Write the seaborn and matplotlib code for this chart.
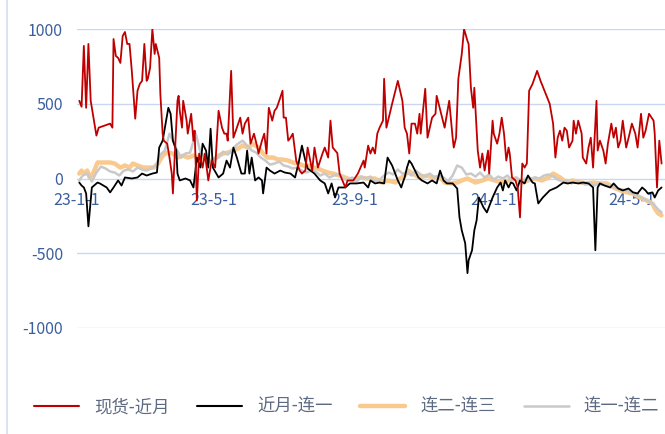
"""
Spread chart: 现货-近月 / 近月-连一 / 连二-连三 / 连一-连二, 2023-01 .. 2024-05.
"""

import numpy as np
import pandas as pd
import matplotlib
matplotlib.use("Agg")
import matplotlib.pyplot as plt
from matplotlib.lines import Line2D
import seaborn as sns


# =============================================
# DATA (days after 2023-01-01, spread value)
# =============================================

series_names = ['现货-近月', '近月-连一', '连二-连三', '连一-连二']

red_day = [2, 4, 6, 8, 10, 12, 17, 19, 29, 31, 32, 34, 36, 38, 40, 42, 44, 46, 48, 51,
           53, 55, 57, 59, 61, 62, 64, 66, 68, 69, 72, 73, 75, 76, 79, 81, 83, 84, 88, 89,
           90, 92, 93, 96, 97, 100, 102, 103, 105, 107, 110, 112, 115, 118, 121, 124, 127, 129, 131, 132,
           135, 137, 140, 143, 145, 147, 150, 152, 155, 158, 159, 162, 164, 166, 168, 171, 173, 175, 178, 180,
           181, 183, 185, 187, 189, 192, 195, 197, 200, 202, 206, 208, 211, 215, 217, 220, 222, 224, 228, 230,
           235, 237, 242, 246, 251, 252, 255, 257, 259, 261, 263, 265, 268, 269, 271, 276, 281, 285, 287, 289,
           291, 293, 296, 298, 300, 301, 303, 305, 307, 311, 314, 315, 319, 322, 323, 326, 329, 330, 332, 334,
           337, 339, 342, 343, 345, 347, 348, 351, 353, 355, 357, 360, 361, 364, 365, 368, 370, 372, 374, 376,
           378, 379, 381, 384, 386, 388, 390, 392, 394, 396, 399, 403, 406, 414, 417, 419, 421, 423, 425, 427,
           429, 431, 434, 435, 437, 439, 442, 443, 446, 448, 450, 452, 455, 456, 458, 461, 463, 465, 468, 470,
           472, 474, 476, 478, 481, 484, 486, 489, 491, 494, 496, 498, 501, 505, 506, 508, 510, 512]
red_val = [520, 480, 887, 473, 900, 520, 287, 340, 367, 340, 933, 820, 807, 773, 953, 980, 900, 900, 720, 400,
           587, 633, 653, 900, 653, 667, 740, 1000, 833, 900, 807, 567, 300, 253, 233, 140, 33, -100, 520, 553,
           453, 340, 520, 387, 300, 433, 253, 320, -147, 167, 73, 167, -13, 120, 73, 453, 340, 300, 300, 253,
           720, 273, 340, 407, 300, 367, 407, 233, 300, 207, 167, 253, 300, 167, 473, 387, 453, 473, 540, 587,
           407, 407, 253, 273, 300, 120, 53, 33, 53, 207, 53, 207, 73, 167, 207, 140, 387, 207, 170, 33,
           -60, -13, -13, 33, 120, 73, 220, 167, 207, 167, 300, 340, 387, 667, 340, 500, 653, 520, 340, 300,
           167, 367, 367, 300, 433, 300, 453, 600, 273, 407, 433, 553, 433, 340, 387, 520, 273, 207, 273, 667,
           833, 1000, 920, 900, 607, 473, 607, 187, 73, 167, 53, 187, 33, 387, 300, 233, 300, 407, 300, 120,
           207, 167, 7, -13, -60, -260, 100, 73, 100, 587, 633, 720, 653, 500, 367, 140, 273, 320, 253, 340,
           320, 207, 253, 387, 300, 387, 300, 140, 100, 207, 273, 73, 520, 187, 253, 187, 100, 233, 367, 273,
           340, 207, 253, 387, 207, 300, 367, 300, 207, 433, 273, 320, 433, 387, 300, -60, 253, 100]

black_day = [2, 4, 6, 8, 10, 13, 18, 20, 26, 29, 32, 36, 39, 42, 48, 53, 57, 61, 66, 70,
             72, 75, 80, 82, 84, 87, 88, 90, 95, 99, 102, 105, 108, 110, 113, 115, 117, 119, 122, 124,
             128, 131, 134, 137, 140, 144, 147, 149, 151, 153, 156, 159, 162, 163, 166, 169, 173, 178, 182, 187,
             191, 194, 197, 200, 202, 208, 213, 217, 220, 223, 226, 229, 235, 239, 245, 251, 255, 257, 261, 265,
             269, 272, 276, 281, 284, 286, 287, 289, 291, 293, 296, 299, 302, 307, 311, 315, 318, 321, 324, 329,
             333, 335, 337, 340, 342, 343, 346, 348, 350, 352, 356, 359, 362, 364, 368, 371, 373, 375, 378, 380,
             382, 385, 388, 392, 395, 399, 401, 404, 408, 414, 420, 426, 430, 434, 439, 443, 448, 452, 454, 456,
             458, 462, 467, 470, 474, 478, 483, 487, 491, 495, 498, 500, 504, 506, 509, 512]
black_val = [-27, -47, -60, -100, -320, -60, -27, -33, -60, -93, -60, -13, -47, 7, 0, 7, 33, 20, 33, 40,
             207, 253, 473, 433, 253, 187, 33, -13, 0, -13, -60, 140, 73, 233, 187, 73, 333, 73, 33, 7,
             33, 120, 73, 207, 140, 33, 33, 187, 33, 140, -13, 7, -13, -100, 73, 53, 33, 53, 40, 33,
             7, 100, 220, 120, 67, 33, -13, -33, -100, -33, -127, -60, -60, -33, -33, -27, -60, -13, -33, -27,
             -33, 140, 87, -13, -60, -13, 7, 73, 120, 100, 53, 7, -13, -33, -13, -33, 53, -13, -33, -33,
             -67, -260, -347, -433, -633, -547, -480, -347, -280, -127, -193, -227, -167, -127, -60, -27, -80, -13, -60, -27,
             -33, -80, -13, -33, 20, -27, -33, -167, -127, -80, -60, -27, -33, -27, -33, -27, -33, -60, -480, -60,
             -33, -47, -60, -33, -67, -80, -67, -93, -100, -60, -80, -100, -93, -127, -80, -60]

orange_day = [2, 4, 6, 9, 11, 14, 18, 23, 29, 33, 38, 42, 46, 49, 53, 58, 62, 67, 71, 74,
              77, 80, 84, 88, 93, 97, 102, 106, 110, 115, 119, 124, 128, 132, 137, 141, 145, 150, 154, 159,
              163, 167, 172, 176, 180, 185, 189, 194, 198, 202, 207, 211, 215, 220, 224, 230, 237, 242, 248, 254,
              261, 267, 272, 279, 283, 287, 290, 294, 300, 307, 312, 318, 322, 328, 333, 337, 342, 349, 355, 360,
              366, 372, 378, 384, 390, 395, 401, 407, 413, 417, 423, 429, 434, 441, 447, 452, 458, 464, 470, 476,
              482, 487, 493, 499, 504, 506, 509, 512]
orange_val = [33, 53, 33, 53, 7, 33, 107, 107, 107, 100, 73, 87, 73, 100, 87, 73, 73, 73, 100, 140,
              167, 173, 167, 140, 153, 140, 153, 140, 127, 120, 120, 153, 167, 173, 187, 200, 220, 207, 233, 207,
              167, 140, 140, 127, 127, 120, 107, 100, 87, 87, 73, 67, 53, 40, 33, 20, 0, -13, 7, 0,
              0, -27, -13, -27, 0, 20, 53, 33, 7, 20, 7, 7, -27, -33, -27, -13, 0, -27, -13, 0,
              -13, -27, -13, 0, -27, -13, 0, -13, 7, 33, 7, -27, -13, -27, -33, -27, -33, -33, -60, -80,
              -93, -100, -127, -147, -167, -200, -233, -247]

gray_day = [2, 5, 9, 13, 17, 21, 25, 29, 33, 37, 41, 45, 49, 53, 57, 61, 65, 69, 73, 77,
            81, 84, 87, 91, 95, 99, 104, 108, 112, 116, 120, 124, 128, 132, 136, 140, 145, 149, 153, 157,
            161, 165, 169, 173, 177, 181, 185, 189, 193, 197, 201, 205, 209, 213, 217, 221, 225, 229, 233, 237,
            241, 245, 249, 253, 257, 261, 265, 269, 273, 277, 281, 285, 289, 293, 297, 301, 305, 309, 313, 317,
            321, 325, 329, 333, 337, 341, 345, 349, 353, 357, 361, 365, 369, 373, 377, 381, 385, 389, 393, 397,
            401, 405, 409, 413, 417, 421, 425, 429, 433, 437, 441, 445, 449, 453, 457, 461, 465, 469, 473, 477,
            481, 485, 489, 493, 497, 501, 505, 509, 512]
gray_val = [-13, 20, 33, -20, 40, 80, 67, 47, 40, 20, 53, 60, 47, 73, 60, 53, 67, 87, 160, 187,
            300, 253, 200, 140, 167, 173, 300, 180, 140, 107, 127, 140, 180, 160, 193, 227, 253, 220, 187, 173,
            140, 120, 93, 100, 113, 87, 80, 67, 73, 53, 40, 53, 47, 20, 33, 7, 20, 27, 0, -13,
            7, -20, 13, 0, 13, -20, -7, 20, 40, 27, 60, 33, 40, 20, 53, 27, 13, 33, 7, 20,
            7, -20, 20, 87, 73, 27, 33, 13, 40, 7, 27, -7, 13, 0, 20, -13, 7, -20, 0, -13,
            7, 0, 20, 27, 13, -7, -20, -13, -33, -20, -27, -40, -27, -47, -33, -40, -47, -53, -67, -73,
            -80, -93, -107, -120, -140, -153, -173, -207, -227]

tick_dates = ['2023-01-01', '2023-05-01', '2023-09-01', '2024-01-01', '2024-05-01']
tick_labels = ['23-1-1', '23-5-1', '23-9-1', '24-1-1', '24-5-1']
y_ticks = [-1000, -500, 0, 500, 1000]


# =============================================
# PLOT
# =============================================

start = pd.Timestamp('2023-01-01')


def to_frame(days, vals):
    return pd.DataFrame({'date': start + pd.to_timedelta(days, unit='D'), 'value': vals})


sns.set_theme(style='white')
plt.rcParams['font.family'] = ['Noto Sans CJK SC', 'DejaVu Sans']

fig = plt.figure(figsize=(6.65, 4.34), dpi=100)
ax = fig.add_axes([77 / 665, 106 / 434, 588 / 665, 299 / 434])

# (name, days, values, colour, width, z-order)
styles = [
    (series_names[2], orange_day, orange_val, '#F9C98E', 3.2, 2),
    (series_names[3], gray_day, gray_val, '#C9C9C9', 1.8, 3),
    (series_names[1], black_day, black_val, '#000000', 1.3, 4),
    (series_names[0], red_day, red_val, '#C00000', 1.3, 5),
]
for name, days, vals, col, lw, z in styles:
    sns.lineplot(data=to_frame(days, vals), x='date', y='value', ax=ax,
                 color=col, lw=lw, zorder=z, legend=False)

ax.set_ylim(-1000, 1000)
ax.set_xlim(start, start + pd.Timedelta(days=515))
ax.set_yticks(y_ticks)
ax.set_yticklabels([str(v) for v in y_ticks])
ax.set_xticks(pd.to_datetime(tick_dates))
ax.set_xticklabels(tick_labels)
ax.set_xlabel('')
ax.set_ylabel('')

ax.yaxis.grid(True, color='#C9D8F0', lw=1)
ax.xaxis.grid(False)
for side in ['top', 'right', 'left']:
    ax.spines[side].set_visible(False)
ax.spines['bottom'].set_position(('data', 0))
ax.spines['bottom'].set_visible(False)

tick_col = '#3A5E9E'
ax.tick_params(axis='y', length=0, pad=10, labelsize=11.5, labelcolor=tick_col)
ax.tick_params(axis='x', length=0, pad=10, labelsize=11.5, labelcolor=tick_col)

# thin chart border on the left
fig.add_artist(Line2D([7 / 665, 7 / 665], [0, 1], color='#D3DEF2', lw=1.2))

handles = [
    Line2D([], [], color='#C00000', lw=1.5),
    Line2D([], [], color='#000000', lw=1.5),
    Line2D([], [], color='#F9C98E', lw=3.2),
    Line2D([], [], color='#C9C9C9', lw=1.8),
]
fig.legend(handles, series_names, loc='center left', bbox_to_anchor=(34 / 665, 1 - 407 / 434),
           ncol=4, frameon=False, fontsize=12.5, handlelength=2.6, handletextpad=0.85,
           columnspacing=1.6, borderpad=0, borderaxespad=0, labelcolor='#5E6A82')

fig.savefig('out.png', dpi=100)
plt.close(fig)
